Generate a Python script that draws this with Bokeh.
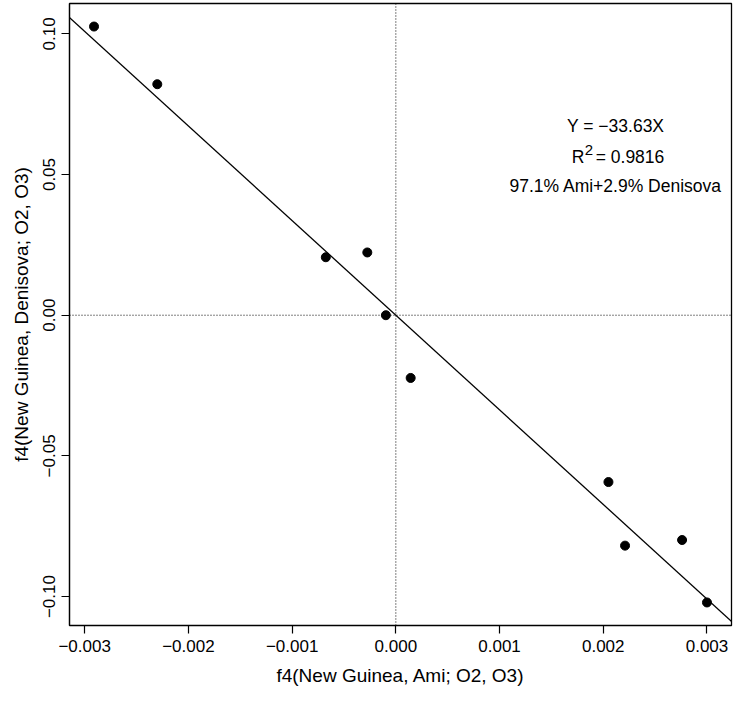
from bokeh.plotting import figure
from bokeh.models import Label, Span, Slope, FixedTicker, Range1d
from bokeh.embed import file_html
from bokeh.resources import INLINE

# ---- data ----
f4_ami = [-0.00291, -0.00230, -0.000675, -0.000275, -0.000096, 0.000143,
          0.00205, 0.00221, 0.00276, 0.00300]
f4_denisova = [0.1026, 0.0821, 0.0206, 0.0223, 0.0000, -0.0223,
               -0.0593, -0.0819, -0.0799, -0.1021]
slope = -33.63
x_ticks = [-0.003, -0.002, -0.001, 0.0, 0.001, 0.002, 0.003]
x_tick_labels = ["\u22120.003", "\u22120.002", "\u22120.001", "0.000", "0.001", "0.002", "0.003"]
y_ticks = [-0.10, -0.05, 0.0, 0.05, 0.10]
y_tick_labels = ["\u22120.10", "\u22120.05", "0.00", "0.05", "0.10"]
eq_text = "Y = \u221233.63X"
r2_value = "= 0.9816"
mix_text = "97.1% Ami+2.9% Denisova"
x_label = "f4(New Guinea, Ami; O2, O3)"
y_label = "f4(New Guinea, Denisova; O2, O3)"

FONT = "Liberation Sans"

def padded(vals, frac=0.04):
    lo, hi = min(vals), max(vals)
    d = (hi - lo) * frac
    return lo - d, hi + d

xr = padded(f4_ami)
yr = padded(f4_denisova)

p = figure(width=734, height=688, output_backend="svg", toolbar_location=None,
           x_range=Range1d(*xr), y_range=Range1d(*yr),
           min_border_left=69, min_border_right=3, min_border_top=3, min_border_bottom=63)
p.grid.visible = False
p.outline_line_color = "black"
p.outline_line_width = 1.3
p.background_fill_color = "white"
p.border_fill_color = "white"

# axes
for ax in (p.xaxis[0], p.yaxis[0]):
    ax.minor_tick_line_color = None
    ax.major_tick_in = 0
    ax.major_tick_out = 8
    ax.major_tick_line_width = 1.2
    ax.axis_line_width = 1.2
    ax.major_label_text_font = FONT
    ax.major_label_text_font_size = "17px"
    ax.major_label_text_color = "black"
    ax.axis_label_text_font = FONT
    ax.axis_label_text_font_size = "19px"
    ax.axis_label_text_font_style = "normal"
    ax.axis_label_text_color = "black"

p.xaxis.ticker = FixedTicker(ticks=x_ticks)
p.xaxis.major_label_overrides = dict(zip(x_ticks, x_tick_labels))
p.yaxis.ticker = FixedTicker(ticks=y_ticks)
p.yaxis.major_label_overrides = dict(zip(y_ticks, y_tick_labels))
p.yaxis.major_label_orientation = "vertical"
p.xaxis.axis_label = x_label
p.yaxis.axis_label = y_label
p.xaxis.major_label_standoff = 6
p.yaxis.major_label_standoff = 6
p.xaxis.axis_label_standoff = 10
p.yaxis.axis_label_standoff = 9

# reference lines at zero
p.add_layout(Span(location=0, dimension="height", line_color="black",
                  line_width=1, line_dash="1 2"))
p.add_layout(Span(location=0, dimension="width", line_color="black",
                  line_width=1, line_dash="1 2"))

# regression through origin
p.add_layout(Slope(gradient=slope, y_intercept=0, line_color="black", line_width=1.3))

# points
p.scatter(f4_ami, f4_denisova, size=9, color="black", marker="circle")

# annotation text
tx = 0.00212
common = dict(text_font=FONT, text_font_size="17.5px", text_color="black",
              text_baseline="middle")
p.add_layout(Label(x=tx, y=0.0672, text=eq_text, text_align="center", **common))
p.add_layout(Label(x=tx, y=0.0563, text="R", text_align="left", x_offset=-44, **common))
p.add_layout(Label(x=tx, y=0.0563, text="2", text_align="left", x_offset=-31, y_offset=7,
                   text_font=FONT, text_font_size="15px", text_color="black",
                   text_baseline="middle"))
p.add_layout(Label(x=tx, y=0.0563, text=r2_value, text_align="left", x_offset=-20, **common))
p.add_layout(Label(x=tx, y=0.0458, text=mix_text, text_align="center", **common))

open("out.html", "w").write(file_html(p, INLINE))
